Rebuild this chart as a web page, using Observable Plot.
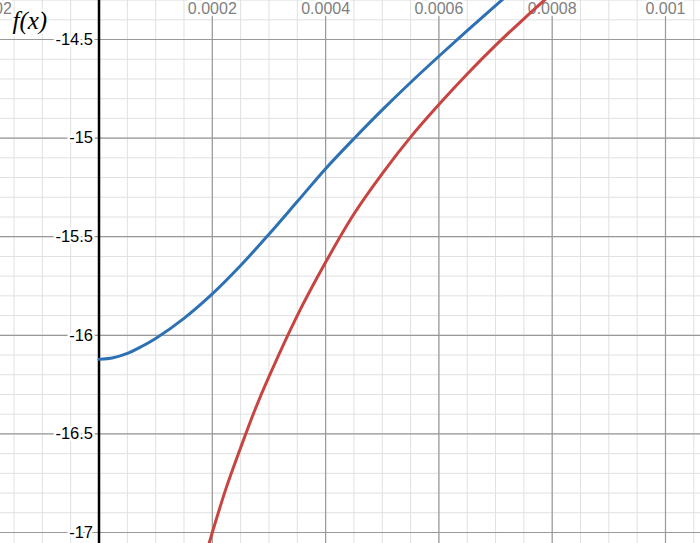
<!DOCTYPE html>
<html><head><meta charset="utf-8">
<script src="https://cdn.jsdelivr.net/npm/d3@7"></script>
<script src="https://cdn.jsdelivr.net/npm/@observablehq/plot@0.6"></script>
<style>html,body{margin:0;padding:0;background:#fff;overflow:hidden}#chart svg{display:block}</style>
</head><body><div id="chart"></div>
<script>
// Blue curve samples
const blueX = [0, 0.000025, 0.00005, 0.000075, 0.0001, 0.00015, 0.0002, 0.00025, 0.0003, 0.00035, 0.0004, 0.00045, 0.0005, 0.00055, 0.0006, 0.00065, 0.0007, 0.00075];
const blueY = [-16.122, -16.114, -16.092, -16.057, -16.016, -15.914, -15.790, -15.646, -15.488, -15.322, -15.155, -15.003, -14.857, -14.718, -14.585, -14.455, -14.328, -14.203];
// Red curve samples
const redX = [0.00019, 0.0002, 0.000225, 0.00025, 0.000275, 0.0003, 0.00035, 0.0004, 0.00045, 0.0005, 0.00055, 0.0006, 0.00065, 0.0007, 0.00075, 0.0008];
const redY = [-17.10, -17.00, -16.77, -16.57, -16.38, -16.21, -15.90, -15.63, -15.385, -15.18, -14.995, -14.83, -14.675, -14.53, -14.395, -14.265];
// Axis ticks
const xTicks = [-0.0002, 0.0002, 0.0004, 0.0006, 0.0008, 0.001];
const xTickLabels = ["-0.0002", "0.0002", "0.0004", "0.0006", "0.0008", "0.001"];
const yTicks = [-14.5, -15, -15.5, -16, -16.5, -17];
const yTickLabels = ["-14.5", "-15", "-15.5", "-16", "-16.5", "-17"];
const yAxisLabel = "f(x)";

const xDomain = [-0.0001739, 0.0010618];
const yDomain = [-17.0558, -14.3022];

const blue = blueX.map((x, i) => ({x, y: blueY[i]}));
const red = redX.map((x, i) => ({x, y: redY[i]}));
const minorX = d3.range(-8, 23).map(i => i * 0.00005);
const minorY = d3.range(-172, -142).map(i => i / 10);
const majorX = d3.range(-1, 6).map(i => i * 0.0002);
const xT = xTicks.map((v, i) => ({v, t: xTickLabels[i]}));
const yT = yTicks.map((v, i) => ({v, t: yTickLabels[i]}));
const xLabelStyle = {x: "v", frameAnchor: "top", text: "t", lineAnchor: "top", dy: 2,
  fontSize: 16, fill: "#808080", stroke: "white", strokeWidth: 5, paintOrder: "stroke"};

const chart = Plot.plot({
  width: 700, height: 543, margin: 0,
  x: {domain: xDomain, axis: null},
  y: {domain: yDomain, axis: null},
  style: {fontFamily: "'Liberation Sans', Arial, sans-serif", background: "white", overflow: "hidden"},
  marks: [
    Plot.ruleX(minorX, {stroke: "#e0e0e0", strokeWidth: 1}),
    Plot.ruleY(minorY, {stroke: "#e0e0e0", strokeWidth: 1}),
    Plot.ruleX(majorX, {stroke: "#999", strokeWidth: 1.2}),
    Plot.ruleY(yTicks, {stroke: "#999", strokeWidth: 1.2}),
    Plot.ruleX([0], {stroke: "#000", strokeWidth: 2.5}),
    Plot.text(yT, {x: 0, y: "v", text: "t", dx: -6, textAnchor: "end", lineAnchor: "middle",
      fontSize: 16.5, fill: "#000", stroke: "white", strokeWidth: 5, paintOrder: "stroke"}),
    Plot.text(xT.filter(d => d.v >= 0), xLabelStyle),
    Plot.text(xT.filter(d => d.v < 0), {...xLabelStyle, dx: -1}),
    Plot.text([yAxisLabel], {frameAnchor: "top-left", text: d => d, dx: 12, dy: 11, lineAnchor: "top",
      textAnchor: "start", fontSize: 25, fontStyle: "italic", fontFamily: "'Liberation Serif', 'Times New Roman', serif",
      fill: "#000", stroke: "white", strokeWidth: 4, paintOrder: "stroke"}),
    Plot.line(blue, {x: "x", y: "y", stroke: "#2d70b3", strokeWidth: 3, curve: "catmull-rom", clip: true}),
    Plot.line(red, {x: "x", y: "y", stroke: "#c74440", strokeWidth: 3, curve: "catmull-rom", clip: true})
  ]
});
document.getElementById("chart").appendChild(chart);
</script>
</body></html>
